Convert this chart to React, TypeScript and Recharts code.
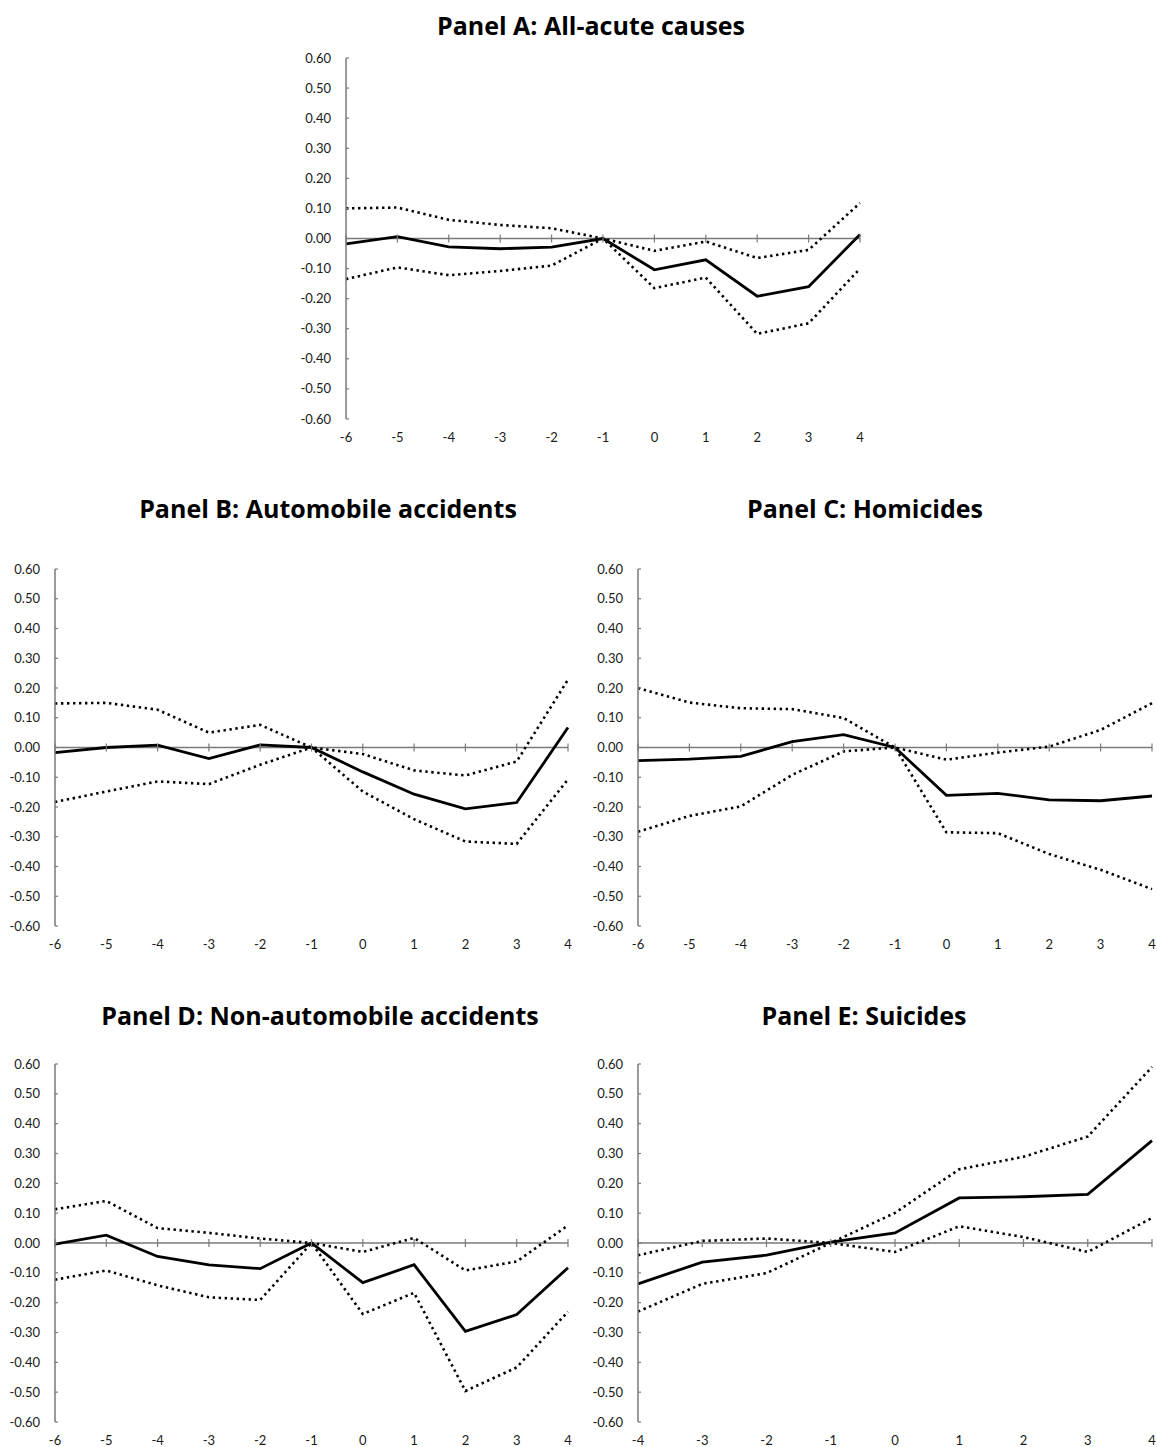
import React from 'react'
import {
  ComposedChart, Line, Scatter, XAxis, YAxis, ReferenceLine,
} from 'recharts'

// event-time periods
const periodsLong = [-6, -5, -4, -3, -2, -1, 0, 1, 2, 3, 4]
const periodsShort = [-4, -3, -2, -1, 0, 1, 2, 3, 4]
const yTicks = [0.6, 0.5, 0.4, 0.3, 0.2, 0.1, 0, -0.1, -0.2, -0.3, -0.4, -0.5, -0.6]

// Panel A: All-acute causes
const estA = [-0.018, 0.006, -0.028, -0.034, -0.029, 0.0, -0.104, -0.071, -0.192, -0.160, 0.013]
const hiA = [0.100, 0.103, 0.062, 0.045, 0.034, 0.0, -0.041, -0.010, -0.065, -0.038, 0.118]
const loA = [-0.135, -0.096, -0.122, -0.108, -0.090, 0.0, -0.165, -0.130, -0.317, -0.282, -0.100]

// Panel B: Automobile accidents
const estB = [-0.017, 0.0, 0.008, -0.037, 0.009, 0.0, -0.082, -0.157, -0.206, -0.185, 0.067]
const hiB = [0.148, 0.150, 0.127, 0.050, 0.076, 0.0, -0.022, -0.077, -0.094, -0.047, 0.228]
const loB = [-0.183, -0.148, -0.114, -0.123, -0.058, 0.0, -0.148, -0.241, -0.316, -0.324, -0.107]

// Panel C: Homicides
const estC = [-0.044, -0.039, -0.030, 0.020, 0.043, 0.0, -0.161, -0.154, -0.176, -0.179, -0.163]
const hiC = [0.200, 0.151, 0.132, 0.129, 0.099, 0.0, -0.041, -0.017, 0.003, 0.059, 0.149]
const loC = [-0.283, -0.230, -0.198, -0.092, -0.013, 0.0, -0.285, -0.288, -0.358, -0.411, -0.476]

// Panel D: Non-automobile accidents
const estD = [-0.004, 0.026, -0.045, -0.073, -0.086, 0.0, -0.133, -0.073, -0.296, -0.240, -0.083]
const hiD = [0.113, 0.141, 0.050, 0.034, 0.015, 0.0, -0.030, 0.017, -0.092, -0.062, 0.059]
const loD = [-0.123, -0.092, -0.142, -0.182, -0.191, 0.0, -0.238, -0.167, -0.496, -0.417, -0.230]

// Panel E: Suicides
const estE = [-0.137, -0.064, -0.041, 0.003, 0.034, 0.151, 0.155, 0.163, 0.343]
const hiE = [-0.041, 0.007, 0.015, 0.0, 0.101, 0.247, 0.289, 0.357, 0.590]
const loE = [-0.230, -0.137, -0.101, 0.0, -0.030, 0.056, 0.020, -0.030, 0.084]

const AXIS_GREY = '#7a7a7a'
const LABEL_GAP = 15
const FONT = 'Lato, "Open Sans", sans-serif'

const YTick = (props: any) => {
  const { x, y, payload } = props
  return (
    <g>
      <text x={x} y={y} dy={4.5} textAnchor="end" fontSize={13} fontFamily={FONT} fill="#1a1a1a">
        {Number(payload.value).toFixed(2)}
      </text>
      <line x1={x + LABEL_GAP} x2={x + LABEL_GAP + 3} y1={y} y2={y} stroke={AXIS_GREY} strokeWidth={1.2} />
    </g>
  )
}

const ZeroTick = (props: any) => {
  const { cx, cy } = props
  return <line x1={cx} x2={cx} y1={cy - 4} y2={cy + 4} stroke={AXIS_GREY} strokeWidth={1.2} />
}

type PanelProps = {
  title: string
  titleX: number
  titleY: number
  left: number
  top: number
  plotW: number
  plotH: number
  periods: number[]
  est: number[]
  hi: number[]
  lo: number[]
}

function Panel({ title, titleX, titleY, left, top, plotW, plotH, periods, est, hi, lo }: PanelProps) {
  const data = periods.map((x, i) => ({ x, est: est[i], hi: hi[i], lo: lo[i] }))
  const zeros = periods.map(x => ({ x, z: 0 }))
  const yW = 60
  return (
    <>
      <div style={{
        position: 'absolute', left: titleX - 300, top: titleY - 18, width: 600, textAlign: 'center',
        fontFamily: '"Open Sans", sans-serif', fontWeight: 700, fontSize: 25, lineHeight: '36px', color: '#000',
      }}>{title}</div>
      <div style={{ position: 'absolute', left: left - yW, top: top - 10 }}>
        <ComposedChart width={plotW + yW + 10} height={plotH + 40} data={data}
          margin={{ top: 10, right: 10, bottom: 0, left: 0 }}>
          <XAxis type="number" dataKey="x" domain={[periods[0], periods[periods.length - 1]]}
            ticks={periods} interval={0} axisLine={false} tickLine={false} height={30}
            tickMargin={8} tick={{ fontSize: 13, fontFamily: FONT, fill: '#1a1a1a' }} />
          <YAxis type="number" domain={[-0.6, 0.6]} ticks={yTicks} interval={0} width={yW}
            tickSize={6} tickMargin={LABEL_GAP - 6} tickLine={false}
            axisLine={{ stroke: AXIS_GREY, strokeWidth: 1.5 }} tick={<YTick />} />
          <ReferenceLine y={0} stroke={AXIS_GREY} strokeWidth={1.5} />
          <Scatter data={zeros} dataKey="z" shape={<ZeroTick />} isAnimationActive={false} />
          <Line type="linear" dataKey="hi" stroke="#000" strokeWidth={2.6} strokeDasharray="2.4 3.6"
            dot={false} activeDot={false} isAnimationActive={false} />
          <Line type="linear" dataKey="lo" stroke="#000" strokeWidth={2.6} strokeDasharray="2.4 3.6"
            dot={false} activeDot={false} isAnimationActive={false} />
          <Line type="linear" dataKey="est" stroke="#000" strokeWidth={2.8}
            dot={false} activeDot={false} isAnimationActive={false} />
        </ComposedChart>
      </div>
    </>
  )
}

export default function App() {
  return (
    <div style={{ position: 'absolute', left: 0, top: 0, width: 1157, height: 1447, overflow: 'hidden', background: '#fff' }}>
      <Panel title="Panel A: All-acute causes" titleX={591} titleY={25}
        left={346} top={58} plotW={514} plotH={361}
        periods={periodsLong} est={estA} hi={hiA} lo={loA} />
      <Panel title="Panel B: Automobile accidents" titleX={328} titleY={508}
        left={55} top={569} plotW={513} plotH={357}
        periods={periodsLong} est={estB} hi={hiB} lo={loB} />
      <Panel title="Panel C: Homicides" titleX={865} titleY={508}
        left={638} top={569} plotW={514} plotH={357}
        periods={periodsLong} est={estC} hi={hiC} lo={loC} />
      <Panel title="Panel D: Non-automobile accidents" titleX={320} titleY={1015}
        left={55} top={1064} plotW={513} plotH={358}
        periods={periodsLong} est={estD} hi={hiD} lo={loD} />
      <Panel title="Panel E: Suicides" titleX={864} titleY={1015}
        left={638} top={1064} plotW={514} plotH={358}
        periods={periodsShort} est={estE} hi={hiE} lo={loE} />
    </div>
  )
}
